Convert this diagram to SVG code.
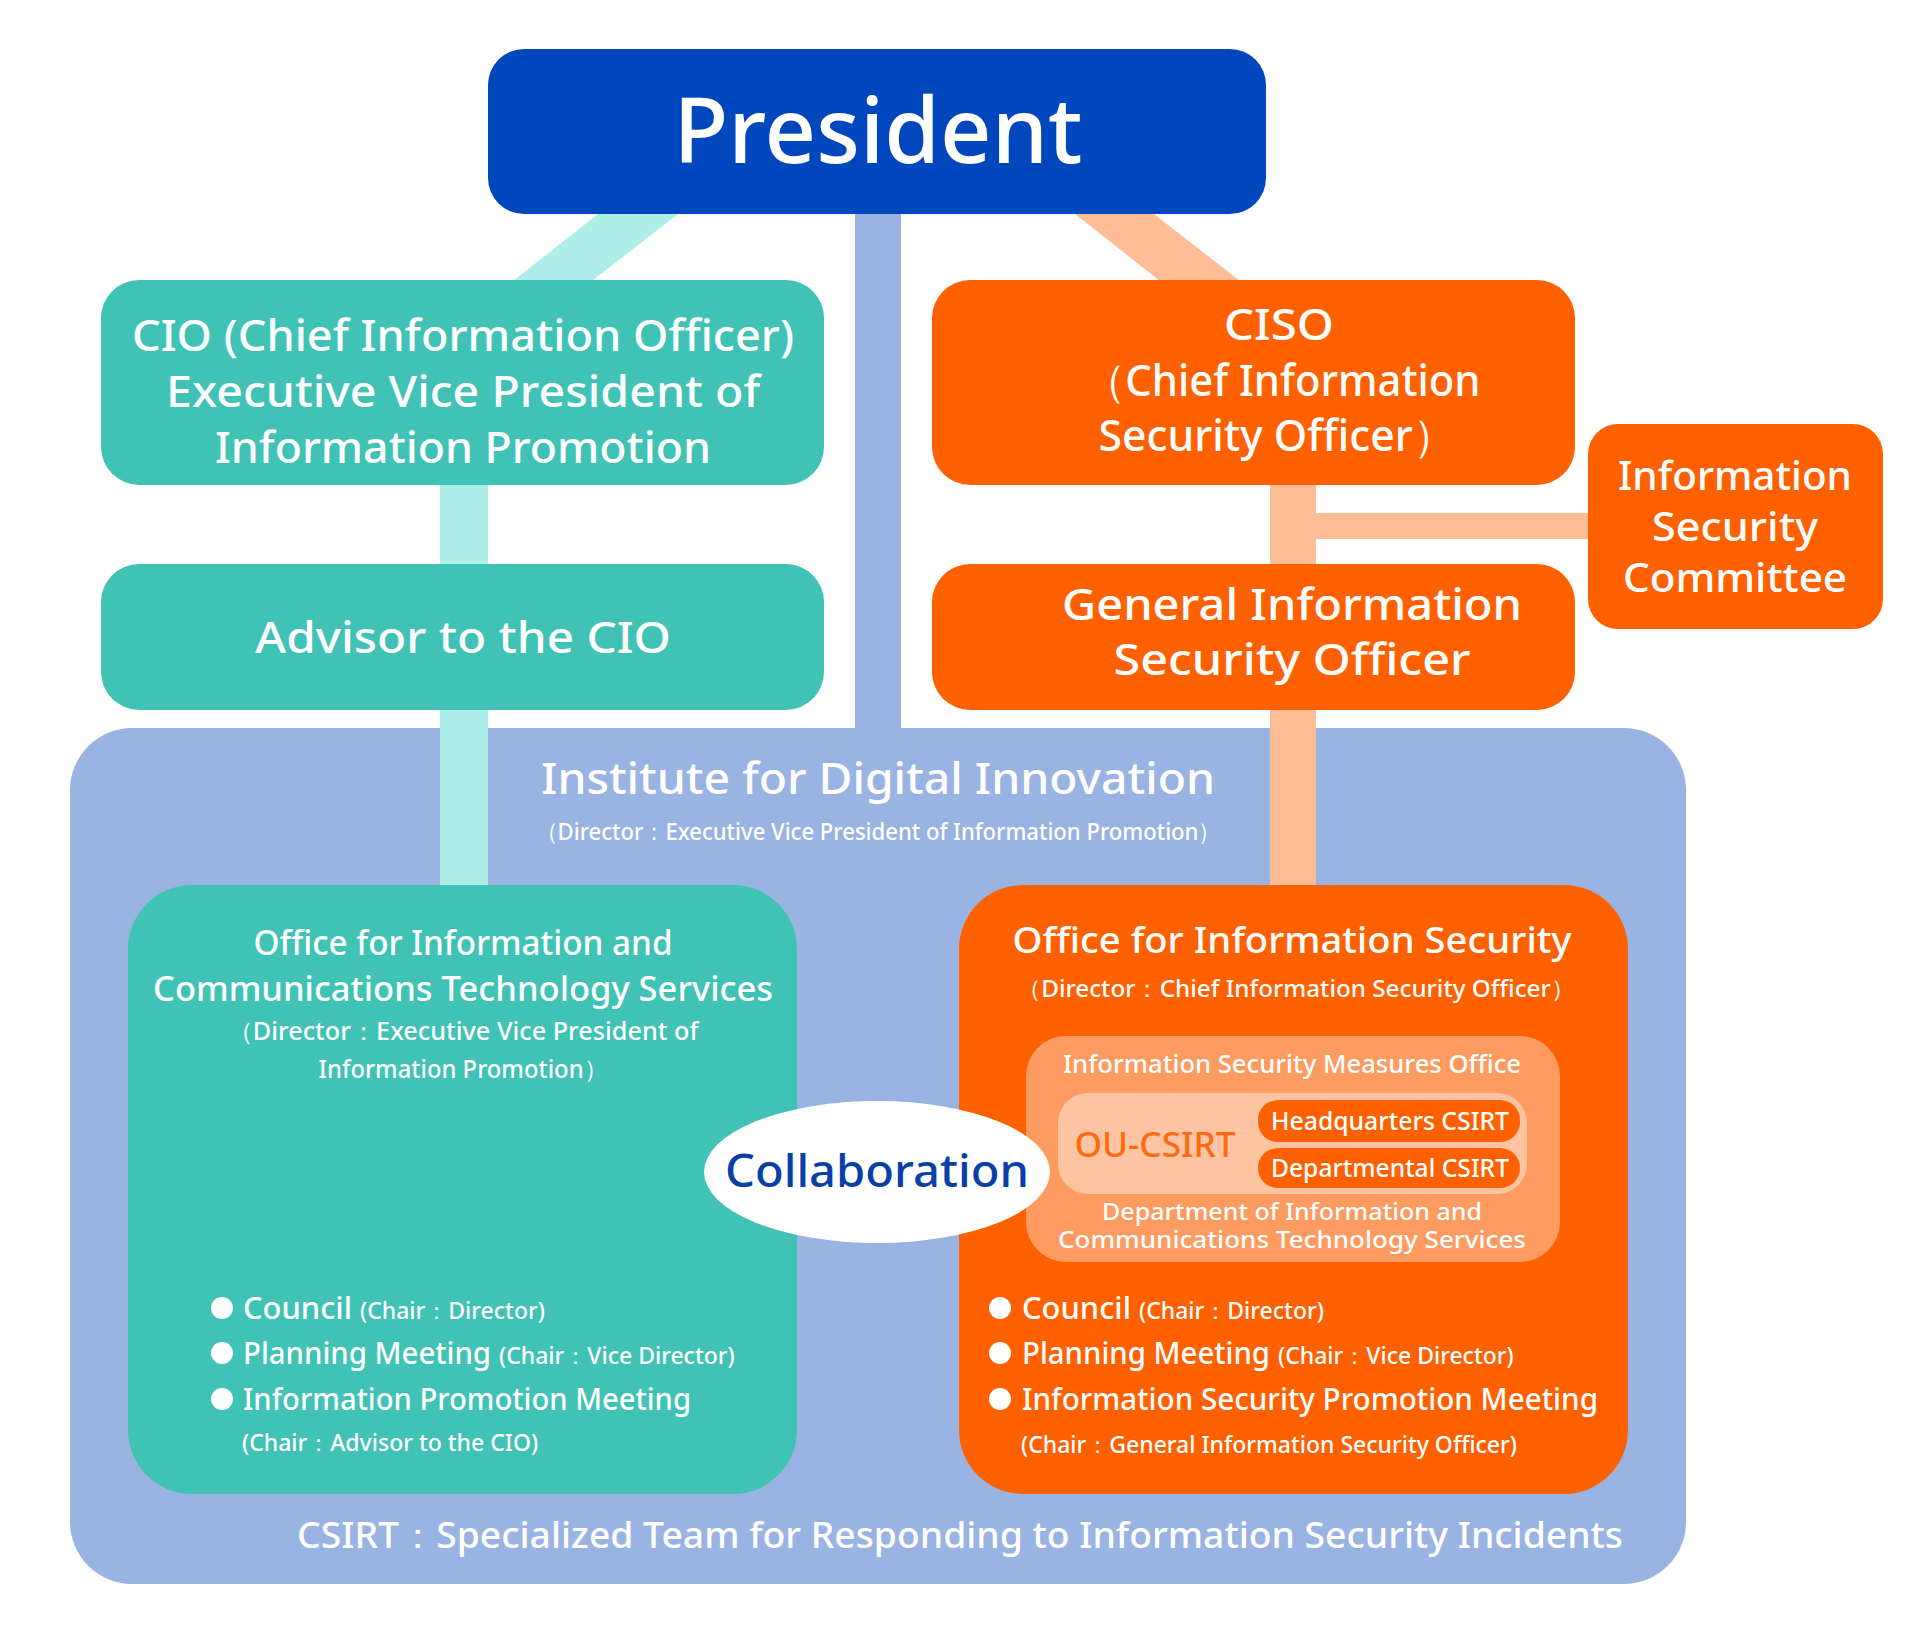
<svg xmlns="http://www.w3.org/2000/svg" width="1905" height="1625" viewBox="0 0 1905 1625">
<style>
text{font-family:"Noto Sans","Open Sans",sans-serif;font-weight:500;fill:#fff;text-anchor:middle}
.s{text-anchor:start}
.teal{fill:#40c3b4}.org{fill:#ff6100}
</style>
<rect width="1905" height="1625" fill="#fff"/>
<g id="connectors">
<polygon points="598,214 678,214 592,281 513,281" fill="#aeeee8"/>
<polygon points="1075,214 1154,214 1240,281 1160,281" fill="#ffbd96"/>
<rect x="855" y="214" width="46" height="520" fill="#99b4e2"/>
<rect x="440" y="485" width="48" height="400" fill="#aeeee8"/>
<rect x="1270" y="485" width="46" height="400" fill="#ffbd96"/>
<rect x="1316" y="513" width="272" height="26" fill="#ffbd96"/>
</g>
<g id="institute">
<rect x="70" y="728" width="1616" height="856" rx="62" fill="#99b4e2"/>
<rect x="440" y="728" width="48" height="157" fill="#aeeee8"/>
<rect x="1270" y="728" width="46" height="157" fill="#ffbd96"/>
<text x="878" y="794" font-size="44" textLength="674" lengthAdjust="spacingAndGlyphs">Institute for Digital Innovation</text>
<text x="878" y="840" font-size="24" textLength="685" lengthAdjust="spacingAndGlyphs">（Director：Executive Vice President of Information Promotion）</text>
<text x="960" y="1548" font-size="36" textLength="1326" lengthAdjust="spacingAndGlyphs">CSIRT：Specialized Team for Responding to Information Security Incidents</text>
</g>
<g id="president">
<rect x="488" y="49" width="778" height="165" rx="36" fill="#0047bd"/>
<text x="878" y="163" font-size="90" font-weight="700" textLength="409" lengthAdjust="spacingAndGlyphs">President</text>
</g>
<g id="cio">
<rect x="101" y="280" width="723" height="205" rx="38" class="teal"/>
<text x="463" y="351" font-size="44" textLength="662" lengthAdjust="spacingAndGlyphs">CIO (Chief Information Officer)</text>
<text x="463" y="407" font-size="44" textLength="594" lengthAdjust="spacingAndGlyphs">Executive Vice President of</text>
<text x="463" y="463" font-size="44" textLength="496" lengthAdjust="spacingAndGlyphs">Information Promotion</text>
</g>
<g id="advisor">
<rect x="101" y="564" width="723" height="146" rx="38" class="teal"/>
<text x="463" y="653" font-size="44" textLength="416" lengthAdjust="spacingAndGlyphs">Advisor to the CIO</text>
</g>
<g id="ciso">
<rect x="932" y="280" width="643" height="205" rx="38" class="org"/>
<text x="1279" y="340" font-size="44" textLength="110" lengthAdjust="spacingAndGlyphs">CISO</text>
<text x="1282" y="396" font-size="44" textLength="397" lengthAdjust="spacingAndGlyphs">（Chief Information</text>
<text x="1277" y="451" font-size="44" textLength="357" lengthAdjust="spacingAndGlyphs">Security Officer）</text>
</g>
<g id="committee">
<rect x="1588" y="424" width="295" height="205" rx="30" class="org"/>
<text x="1735" y="490" font-size="39" textLength="234" lengthAdjust="spacingAndGlyphs">Information</text>
<text x="1735" y="541" font-size="39" textLength="166" lengthAdjust="spacingAndGlyphs">Security</text>
<text x="1735" y="592" font-size="39" textLength="224" lengthAdjust="spacingAndGlyphs">Committee</text>
</g>
<g id="giso">
<rect x="932" y="564" width="643" height="146" rx="38" class="org"/>
<text x="1292" y="620" font-size="44" textLength="460" lengthAdjust="spacingAndGlyphs">General Information</text>
<text x="1292" y="675" font-size="44" textLength="357" lengthAdjust="spacingAndGlyphs">Security Officer</text>
</g>
<g id="office-ict">
<rect x="128" y="885" width="669" height="609" rx="64" class="teal"/>
<text x="463" y="955" font-size="35" textLength="419" lengthAdjust="spacingAndGlyphs">Office for Information and</text>
<text x="463" y="1001" font-size="35" textLength="620" lengthAdjust="spacingAndGlyphs">Communications Technology Services</text>
<text x="463" y="1040" font-size="25" textLength="471" lengthAdjust="spacingAndGlyphs">（Director：Executive Vice President of</text>
<text x="463" y="1078" font-size="25" textLength="289" lengthAdjust="spacingAndGlyphs">Information Promotion）</text>
<circle cx="222" cy="1308" r="11" fill="#fff"/>
<circle cx="222" cy="1353" r="11" fill="#fff"/>
<circle cx="222" cy="1399" r="11" fill="#fff"/>
<text class="s" x="243" y="1319" font-size="31"><tspan textLength="109" lengthAdjust="spacingAndGlyphs">Council</tspan><tspan font-size="23" dx="8">(Chair：Director)</tspan></text>
<text class="s" x="243" y="1364" font-size="31"><tspan textLength="248" lengthAdjust="spacingAndGlyphs">Planning Meeting</tspan><tspan font-size="23" dx="8">(Chair：Vice Director)</tspan></text>
<text class="s" x="243" y="1410" font-size="31" textLength="448" lengthAdjust="spacingAndGlyphs">Information Promotion Meeting</text>
<text class="s" x="242" y="1451" font-size="23">(Chair：Advisor to the CIO)</text>
</g>
<g id="office-sec">
<rect x="959" y="885" width="669" height="609" rx="64" class="org"/>
<text x="1292" y="953" font-size="36" textLength="559" lengthAdjust="spacingAndGlyphs">Office for Information Security</text>
<text x="1296" y="997" font-size="24" textLength="558" lengthAdjust="spacingAndGlyphs">（Director：Chief Information Security Officer）</text>
<circle cx="1000" cy="1308" r="11" fill="#fff"/>
<circle cx="1000" cy="1353" r="11" fill="#fff"/>
<circle cx="1000" cy="1399" r="11" fill="#fff"/>
<text class="s" x="1022" y="1319" font-size="31"><tspan textLength="109" lengthAdjust="spacingAndGlyphs">Council</tspan><tspan font-size="23" dx="8">(Chair：Director)</tspan></text>
<text class="s" x="1022" y="1364" font-size="31"><tspan textLength="248" lengthAdjust="spacingAndGlyphs">Planning Meeting</tspan><tspan font-size="23" dx="8">(Chair：Vice Director)</tspan></text>
<text class="s" x="1022" y="1410" font-size="31" textLength="576" lengthAdjust="spacingAndGlyphs">Information Security Promotion Meeting</text>
<text class="s" x="1021" y="1453" font-size="23">(Chair：General Information Security Officer)</text>
</g>
<g id="measures-office">
<rect x="1026" y="1036" width="534" height="226" rx="40" fill="#fd9b61"/>
<text x="1292" y="1073" font-size="25" textLength="458" lengthAdjust="spacingAndGlyphs">Information Security Measures Office</text>
<rect x="1058" y="1093" width="469" height="101" rx="30" fill="#ffc4a1"/>
<text x="1155" y="1157" font-size="34" style="fill:#ff6a10" textLength="161" lengthAdjust="spacingAndGlyphs">OU-CSIRT</text>
<rect x="1258" y="1100" width="262" height="42" rx="20" class="org"/>
<text x="1390" y="1130" font-size="25" textLength="238" lengthAdjust="spacingAndGlyphs">Headquarters CSIRT</text>
<rect x="1258" y="1148" width="262" height="40" rx="20" class="org"/>
<text x="1390" y="1177" font-size="25" textLength="238" lengthAdjust="spacingAndGlyphs">Departmental CSIRT</text>
<text x="1292" y="1220" font-size="23" textLength="380" lengthAdjust="spacingAndGlyphs">Department of Information and</text>
<text x="1292" y="1248" font-size="23" textLength="468" lengthAdjust="spacingAndGlyphs">Communications Technology Services</text>
</g>
<g id="collaboration">
<ellipse cx="877" cy="1172" rx="173" ry="71" fill="#fff"/>
<text x="877" y="1187" font-size="46" style="fill:#0a3fa8" font-weight="600" textLength="304" lengthAdjust="spacingAndGlyphs">Collaboration</text>
</g>
</svg>
